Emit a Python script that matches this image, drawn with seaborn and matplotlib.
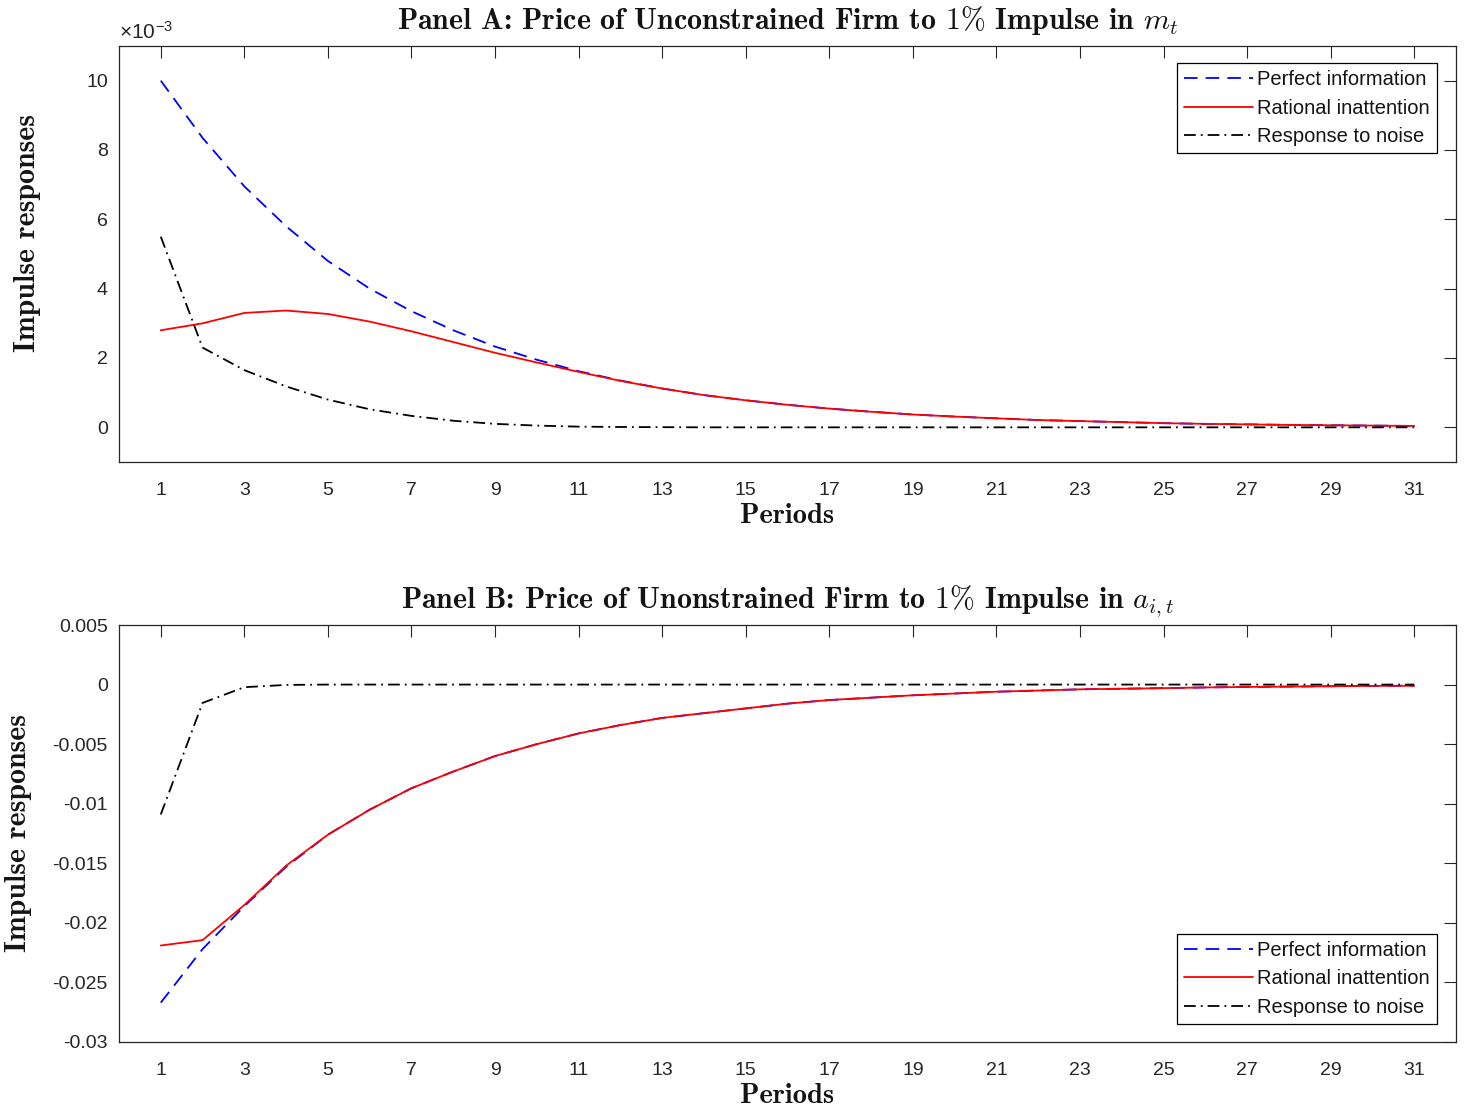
import numpy as np
import pandas as pd
import matplotlib
matplotlib.use("Agg")
import matplotlib.pyplot as plt
import seaborn as sns

# ---------------- data ----------------
periods = list(range(1, 32))

# Panel A values (in units of 1e-3)
panel_a_perfect = [10.0, 8.35, 6.95, 5.8, 4.8, 4.0, 3.35, 2.8, 2.33, 1.95, 1.62, 1.35, 1.12,
                   0.93, 0.78, 0.65, 0.54, 0.45, 0.37, 0.31, 0.26, 0.21, 0.18, 0.15, 0.12,
                   0.10, 0.085, 0.07, 0.06, 0.05, 0.04]
panel_a_rational = [2.8, 3.0, 3.3, 3.37, 3.27, 3.05, 2.77, 2.46, 2.15, 1.87, 1.6, 1.34, 1.12,
                    0.93, 0.78, 0.65, 0.54, 0.45, 0.37, 0.31, 0.26, 0.21, 0.18, 0.15, 0.12,
                    0.10, 0.085, 0.07, 0.06, 0.05, 0.04]
panel_a_noise = [5.5, 2.3, 1.65, 1.18, 0.8, 0.52, 0.33, 0.19, 0.1, 0.05, 0.02, 0.01, 0.005,
                 0.0, 0.0, 0.0, 0.0, 0.0, 0.0, 0.0, 0.0, 0.0, 0.0, 0.0, 0.0,
                 0.0, 0.0, 0.0, 0.0, 0.0, 0.0]

panel_b_perfect = [-0.0267, -0.0222, -0.0186, -0.0153, -0.0126, -0.0105, -0.0087, -0.0073,
                   -0.0060, -0.0050, -0.0041, -0.0034, -0.0028, -0.0024, -0.0020, -0.0016,
                   -0.0013, -0.0011, -0.0009, -0.00075, -0.0006, -0.0005, -0.0004, -0.00035,
                   -0.0003, -0.00024, -0.0002, -0.00017, -0.00014, -0.00011, -0.0001]
panel_b_rational = [-0.0219, -0.02145, -0.0185, -0.0152, -0.0126, -0.0105, -0.0087, -0.0073,
                    -0.0060, -0.0050, -0.0041, -0.0034, -0.0028, -0.0024, -0.0020, -0.0016,
                    -0.0013, -0.0011, -0.0009, -0.00075, -0.0006, -0.0005, -0.0004, -0.00035,
                    -0.0003, -0.00024, -0.0002, -0.00017, -0.00014, -0.00011, -0.0001]
panel_b_noise = [-0.0109, -0.00154, -0.00022, -0.00003, 0.0, 0.0, 0.0, 0.0, 0.0, 0.0, 0.0,
                 0.0, 0.0, 0.0, 0.0, 0.0, 0.0, 0.0, 0.0, 0.0, 0.0, 0.0, 0.0, 0.0, 0.0,
                 0.0, 0.0, 0.0, 0.0, 0.0, 0.0]

series_names = ["Perfect information", "Rational inattention", "Response to noise"]
x_ticks = list(range(1, 32, 2))
a_yticks = [0, 2, 4, 6, 8, 10]
b_yticks = [-0.03, -0.025, -0.02, -0.015, -0.01, -0.005, 0, 0.005]
b_yticklabels = ["-0.03", "-0.025", "-0.02", "-0.015", "-0.01", "-0.005", "0", "0.005"]

title_a = r"Panel A: Price of Unconstrained Firm to $1\%$ Impulse in $m_t$"
title_b = r"Panel B: Price of Unonstrained Firm to $1\%$ Impulse in $a_{i,t}$"

# ---------------- style ----------------
sns.set_style("white")
plt.rcParams["font.family"] = ["Liberation Sans", "DejaVu Sans"]
plt.rcParams["mathtext.fontset"] = "cm"

SERIF = ["cmb10", "DejaVu Serif"]
GRAY = "#262626"
DARK = "#141414"

fig = plt.figure(figsize=(14.65, 11.14), dpi=100)
ax_a = fig.add_axes([119 / 1465, 1 - 462 / 1114, 1337 / 1465, 416 / 1114])
ax_b = fig.add_axes([119 / 1465, 1 - 1042 / 1114, 1337 / 1465, 417 / 1114])

styles = [
    dict(color="#0000FF", linestyle=(0, (7.5, 4.5))),
    dict(color="#FF0000", linestyle="-"),
    dict(color="#000000", linestyle=(0, (6.5, 2.8, 1.0, 2.8))),
]


def draw(ax, values):
    for name, vals, st in zip(series_names, values, styles):
        df = pd.DataFrame({"period": periods, "value": vals})
        sns.lineplot(data=df, x="period", y="value", ax=ax, label=name,
                     linewidth=1.3, **st)


draw(ax_a, [panel_a_perfect, panel_a_rational, panel_a_noise])
draw(ax_b, [panel_b_perfect, panel_b_rational, panel_b_noise])

for ax in (ax_a, ax_b):
    ax.set_xlim(0, 32)
    ax.set_xticks(x_ticks)
    ax.set_xticklabels([str(t) for t in x_ticks])
    ax.tick_params(axis="both", which="both", direction="in", length=8.5, width=0.8,
                   color=GRAY, labelcolor=GRAY, labelsize=14,
                   top=True, right=True)
    ax.tick_params(axis="x", pad=14.5)
    ax.tick_params(axis="y", pad=8)
    for sp in ax.spines.values():
        sp.set_visible(True)
        sp.set_color(GRAY)
        sp.set_linewidth(0.9)
    ax.set_xlabel("Periods", fontfamily=SERIF, fontsize=20.5, color=DARK, labelpad=3)
    ax.set_ylabel("Impulse responses", fontfamily=SERIF, fontsize=21.5, color=DARK)
    ax.grid(False)

ax_a.set_ylim(-1, 11)
ax_a.set_yticks(a_yticks)
ax_a.set_yticklabels([str(t) for t in a_yticks])
ax_b.set_ylim(-0.03, 0.005)
ax_b.set_yticks(b_yticks)
ax_b.set_yticklabels(b_yticklabels)

ax_a.set_title(title_a, fontfamily=SERIF, fontsize=21.5, color=DARK, pad=12,
               math_fontfamily="cm")
ax_b.set_title(title_b, fontfamily=SERIF, fontsize=21.5, color=DARK, pad=12,
               math_fontfamily="cm")

ax_a.text(0.0, 1.006, r"×10$^{\mathregular{-3}}$", transform=ax_a.transAxes,
          fontsize=15, color=GRAY, ha="left", va="bottom")

ax_a.yaxis.set_label_coords(-0.058, 0.55)
ax_b.yaxis.set_label_coords(-0.065, 0.5)

leg_kw = dict(frameon=True, fancybox=False, framealpha=1, edgecolor="#000000",
              fontsize=14.5, handlelength=3.45, handletextpad=0.2, borderpad=0.35,
              labelspacing=0.48, borderaxespad=0)
leg_a = ax_a.legend(loc="upper right", bbox_to_anchor=(0.9858, 0.959), **leg_kw)
leg_b = ax_b.legend(loc="lower right", bbox_to_anchor=(0.9858, 0.043), **leg_kw)
for leg in (leg_a, leg_b):
    leg.get_frame().set_linewidth(0.9)
    for t in leg.get_texts():
        t.set_color(DARK)

fig.savefig("out.png", dpi=100, facecolor="white")
